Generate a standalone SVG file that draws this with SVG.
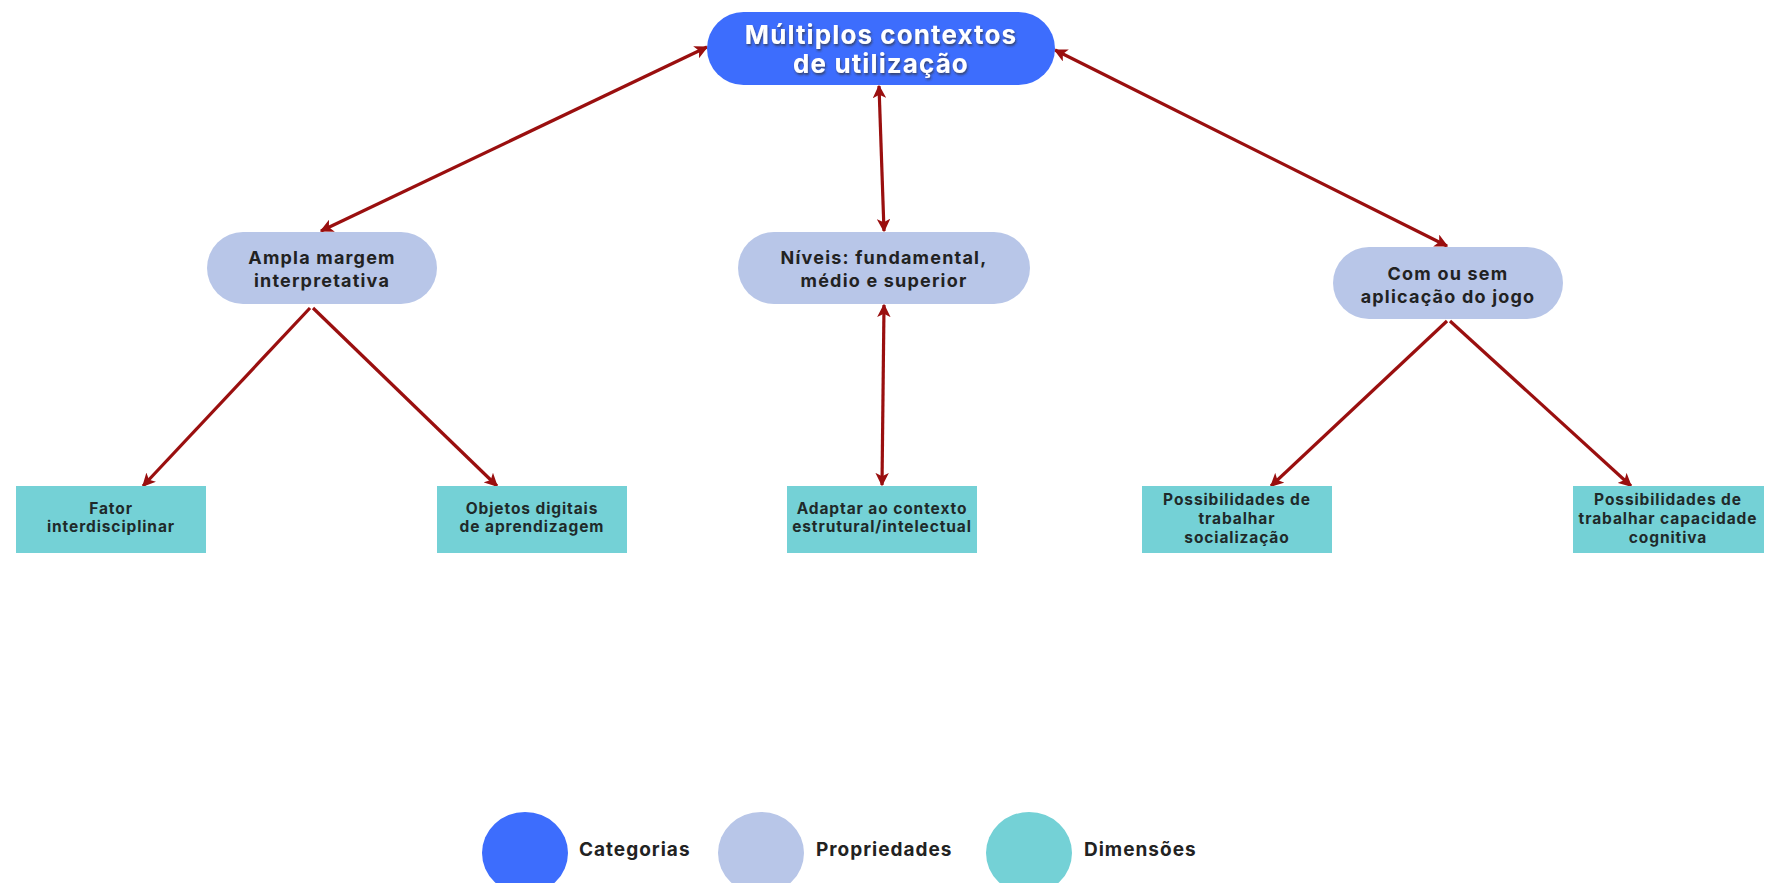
<svg xmlns="http://www.w3.org/2000/svg" width="1767" height="883" viewBox="0 0 1767 883">
<style>
.cat{fill:#3d6dfd}
.prop{fill:#b8c6e8}
.dim{fill:#74d1d6}
.t{font-family:Inter,"Noto Sans",sans-serif;font-weight:700;text-anchor:middle;dominant-baseline:central}
.tc{font-size:26px;letter-spacing:1.1px;fill:#ffffff;filter:url(#sh)}
.tp{font-size:18px;letter-spacing:1.2px;fill:#222222}
.td{font-size:15.5px;letter-spacing:0.9px;fill:#1f2a2a}
.tl{font-family:Inter,"Noto Sans",sans-serif;font-weight:700;font-size:19px;letter-spacing:1px;fill:#222222;dominant-baseline:central}
.c{stroke:#9a0f0f;stroke-width:3.2;fill:none}
</style>
<defs>
<marker id="ah" viewBox="0 0 10 10" refX="9" refY="5" markerWidth="4.2" markerHeight="4.2" orient="auto-start-reverse">
<path d="M0,0 L10,5 L0,10 L2.5,5 z" fill="#9a0f0f"/>
</marker>
<filter id="sh" x="-10%" y="-30%" width="120%" height="160%">
<feDropShadow dx="1" dy="2" stdDeviation="1.2" flood-color="#333" flood-opacity="0.7"/>
</filter>
</defs>
<rect width="1767" height="883" fill="#ffffff"/>
<g id="connectors">
<line class="c" x1="707" y1="47" x2="321" y2="231" marker-start="url(#ah)" marker-end="url(#ah)"/>
<line class="c" x1="879" y1="86" x2="884" y2="231" marker-start="url(#ah)" marker-end="url(#ah)"/>
<line class="c" x1="1055" y1="50" x2="1447" y2="246" marker-start="url(#ah)" marker-end="url(#ah)"/>
<line class="c" x1="884" y1="305" x2="882" y2="485" marker-start="url(#ah)" marker-end="url(#ah)"/>
<line class="c" x1="310" y1="308" x2="143" y2="486" marker-end="url(#ah)"/>
<line class="c" x1="313" y1="308" x2="497" y2="486" marker-end="url(#ah)"/>
<line class="c" x1="1447" y1="321" x2="1271" y2="486" marker-end="url(#ah)"/>
<line class="c" x1="1450" y1="321" x2="1631" y2="486" marker-end="url(#ah)"/>
</g>
<g id="n-multiplos">
<rect class="cat" x="707" y="12" width="348" height="73" rx="36.5"/>
<text class="t tc" x="881" y="34">Múltiplos contextos</text>
<text class="t tc" x="881" y="63">de utilização</text>
</g>
<g id="n-ampla">
<rect class="prop" x="207" y="232" width="230" height="72" rx="36"/>
<text class="t tp" x="322" y="257">Ampla margem</text>
<text class="t tp" x="322" y="280">interpretativa</text>
</g>
<g id="n-niveis">
<rect class="prop" x="738" y="232" width="292" height="72" rx="36"/>
<text class="t tp" x="884" y="257">Níveis: fundamental,</text>
<text class="t tp" x="884" y="280">médio e superior</text>
</g>
<g id="n-com">
<rect class="prop" x="1333" y="247" width="230" height="72" rx="36"/>
<text class="t tp" x="1448" y="273">Com ou sem</text>
<text class="t tp" x="1448" y="296">aplicação do jogo</text>
</g>
<g id="n-fator">
<rect class="dim" x="16" y="486" width="190" height="67"/>
<text class="t td" x="111" y="508">Fator</text>
<text class="t td" x="111" y="526">interdisciplinar</text>
</g>
<g id="n-objetos">
<rect class="dim" x="437" y="486" width="190" height="67"/>
<text class="t td" x="532" y="508">Objetos digitais</text>
<text class="t td" x="532" y="526">de aprendizagem</text>
</g>
<g id="n-adaptar">
<rect class="dim" x="787" y="486" width="190" height="67"/>
<text class="t td" x="882" y="508">Adaptar ao contexto</text>
<text class="t td" x="882" y="526">estrutural/intelectual</text>
</g>
<g id="n-socializacao">
<rect class="dim" x="1142" y="486" width="190" height="67"/>
<text class="t td" x="1237" y="499">Possibilidades de</text>
<text class="t td" x="1237" y="518">trabalhar</text>
<text class="t td" x="1237" y="537">socialização</text>
</g>
<g id="n-cognitiva">
<rect class="dim" x="1573" y="486" width="191" height="67"/>
<text class="t td" x="1668" y="499">Possibilidades de</text>
<text class="t td" x="1668" y="518">trabalhar capacidade</text>
<text class="t td" x="1668" y="537">cognitiva</text>
</g>
<g id="legend">
<ellipse class="cat" cx="525" cy="853" rx="43" ry="41"/>
<text class="tl" x="579" y="849">Categorias</text>
<ellipse class="prop" cx="761" cy="853" rx="43" ry="41"/>
<text class="tl" x="816" y="849">Propriedades</text>
<ellipse class="dim" cx="1029" cy="853" rx="43" ry="41"/>
<text class="tl" x="1084" y="849">Dimensões</text>
</g>
</svg>
